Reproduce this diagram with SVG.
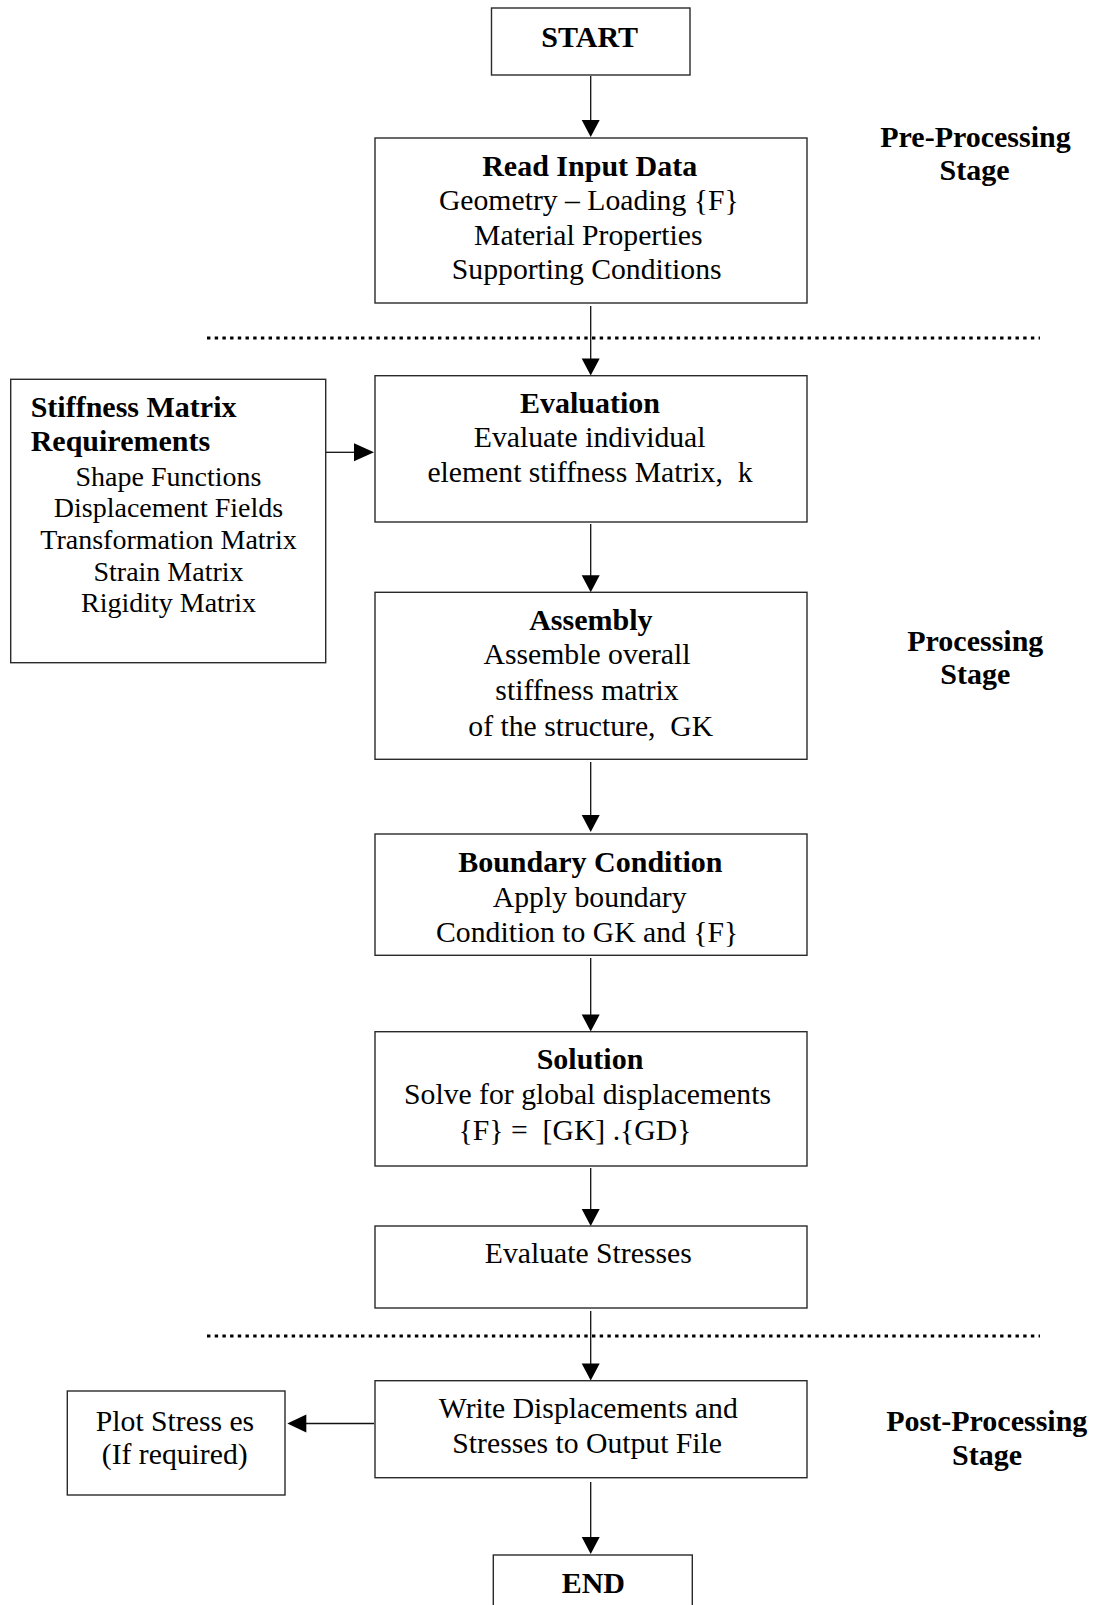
<svg xmlns="http://www.w3.org/2000/svg" width="1098" height="1605" viewBox="0 0 1098 1605">
<style>
  .box { fill: #ffffff; stroke: #2a2a2a; stroke-width: 1.4; }
  .ln { stroke: #111111; stroke-width: 1.3; fill: none; }
  .head { fill: #000000; stroke: none; }
  .dot { stroke: #000000; stroke-width: 3; stroke-dasharray: 3.4 4.3; fill: none; }
  text { font-family: "Liberation Serif", "Times New Roman", serif; fill: #000000; white-space: pre; }
  .b { font-weight: bold; font-size: 30px; }
  .r { font-size: 29.7px; }
  .s { font-size: 28px; }
  .c { text-anchor: middle; }
</style>
<rect width="1098" height="1605" fill="#ffffff"/>

<g id="separators">
  <line class="dot" x1="207" y1="338" x2="1040" y2="338"/>
  <line class="dot" x1="207" y1="1336" x2="1040" y2="1336"/>
</g>

<g id="connectors">
  <line class="ln" x1="590.7" y1="76" x2="590.7" y2="122"/>
  <polygon class="head" points="590.7,137 581.7,120 599.7,120"/>
  <line class="ln" x1="590.7" y1="306" x2="590.7" y2="360"/>
  <polygon class="head" points="590.7,375.5 581.7,358.5 599.7,358.5"/>
  <line class="ln" x1="590.7" y1="524" x2="590.7" y2="577"/>
  <polygon class="head" points="590.7,592.3 581.7,575.3 599.7,575.3"/>
  <line class="ln" x1="590.7" y1="762" x2="590.7" y2="816"/>
  <polygon class="head" points="590.7,832 581.7,815 599.7,815"/>
  <line class="ln" x1="590.7" y1="958" x2="590.7" y2="1016"/>
  <polygon class="head" points="590.7,1031.5 581.7,1014.5 599.7,1014.5"/>
  <line class="ln" x1="590.7" y1="1168" x2="590.7" y2="1211"/>
  <polygon class="head" points="590.7,1226 581.7,1209 599.7,1209"/>
  <line class="ln" x1="590.7" y1="1311" x2="590.7" y2="1365"/>
  <polygon class="head" points="590.7,1380.5 581.7,1363.5 599.7,1363.5"/>
  <line class="ln" x1="590.7" y1="1482" x2="590.7" y2="1538"/>
  <polygon class="head" points="590.7,1554 581.7,1537 599.7,1537"/>
  <line class="ln" x1="326" y1="452.3" x2="356" y2="452.3"/>
  <polygon class="head" points="374,452.3 354,443.3 354,461.3"/>
  <line class="ln" x1="374" y1="1423.5" x2="304" y2="1423.5"/>
  <polygon class="head" points="287.3,1423.5 306.3,1414.5 306.3,1432.5"/>
</g>

<g id="start">
  <rect class="box" x="491.5" y="8" width="198.5" height="67"/>
  <text class="b c" x="589.7" y="46.7">START</text>
</g>

<g id="read-input">
  <rect class="box" x="375" y="138" width="432" height="165"/>
  <text class="b c" x="589.7" y="175.7">Read Input Data</text>
  <text class="r c" x="588.8" y="210">Geometry – Loading {F}</text>
  <text class="r c" x="588.3" y="245">Material Properties</text>
  <text class="r c" x="586.7" y="279">Supporting Conditions</text>
</g>

<g id="stiffness-requirements">
  <rect class="box" x="10.7" y="379.3" width="315" height="283.4"/>
  <text class="b" x="30.7" y="417.3">Stiffness Matrix</text>
  <text class="b" x="30.7" y="450.7">Requirements</text>
  <text class="s c" x="168.5" y="486">Shape Functions</text>
  <text class="s c" x="168.5" y="517.3">Displacement Fields</text>
  <text class="s c" x="168.5" y="549.3">Transformation Matrix</text>
  <text class="s c" x="168.5" y="580.7">Strain Matrix</text>
  <text class="s c" x="168.5" y="612.3">Rigidity Matrix</text>
</g>

<g id="evaluation">
  <rect class="box" x="375" y="375.7" width="432" height="146.3"/>
  <text class="b c" x="590" y="412.7">Evaluation</text>
  <text class="r c" x="589.7" y="446.7">Evaluate individual</text>
  <text class="r c" x="590" y="481.7">element stiffness Matrix,  k</text>
</g>

<g id="assembly">
  <rect class="box" x="375" y="592.3" width="432" height="167"/>
  <text class="b c" x="590.8" y="630">Assembly</text>
  <text class="r c" x="587" y="664.3">Assemble overall</text>
  <text class="r c" x="587" y="700">stiffness matrix</text>
  <text class="r c" x="590.8" y="736">of the structure,  GK</text>
</g>

<g id="boundary-condition">
  <rect class="box" x="375" y="834" width="432" height="121.3"/>
  <text class="b c" x="590.3" y="871.7">Boundary Condition</text>
  <text class="r c" x="589.7" y="906.7">Apply boundary</text>
  <text class="r c" x="587.2" y="941.7">Condition to GK and {F}</text>
</g>

<g id="solution">
  <rect class="box" x="375" y="1031.7" width="432" height="134.3"/>
  <text class="b c" x="590" y="1069.3">Solution</text>
  <text class="r c" x="587.5" y="1104">Solve for global displacements</text>
  <text class="r c" x="575" y="1140">{F} =  [GK] .{GD}</text>
</g>

<g id="evaluate-stresses">
  <rect class="box" x="375" y="1226" width="432" height="82"/>
  <text class="r c" x="588.3" y="1263.3">Evaluate Stresses</text>
</g>

<g id="write-output">
  <rect class="box" x="375" y="1380.7" width="432" height="97"/>
  <text class="r c" x="588.3" y="1418.3">Write Displacements and</text>
  <text class="r c" x="587.2" y="1453.3">Stresses to Output File</text>
</g>

<g id="plot-stresses">
  <rect class="box" x="67.3" y="1391" width="217.7" height="104"/>
  <text class="r c" x="175" y="1431">Plot Stress es</text>
  <text class="r c" x="174.7" y="1464">(If required)</text>
</g>

<g id="end">
  <rect class="box" x="493.3" y="1555" width="199" height="60"/>
  <text class="b c" x="593.3" y="1593.3">END</text>
</g>

<g id="stage-labels">
  <text class="b c" x="975.5" y="146.7">Pre-Processing</text>
  <text class="b c" x="974.5" y="179.5">Stage</text>
  <text class="b c" x="975.3" y="650.5">Processing</text>
  <text class="b c" x="975.3" y="683.5">Stage</text>
  <text class="b c" x="986.8" y="1430.5">Post-Processing</text>
  <text class="b c" x="987" y="1465">Stage</text>
</g>
</svg>
